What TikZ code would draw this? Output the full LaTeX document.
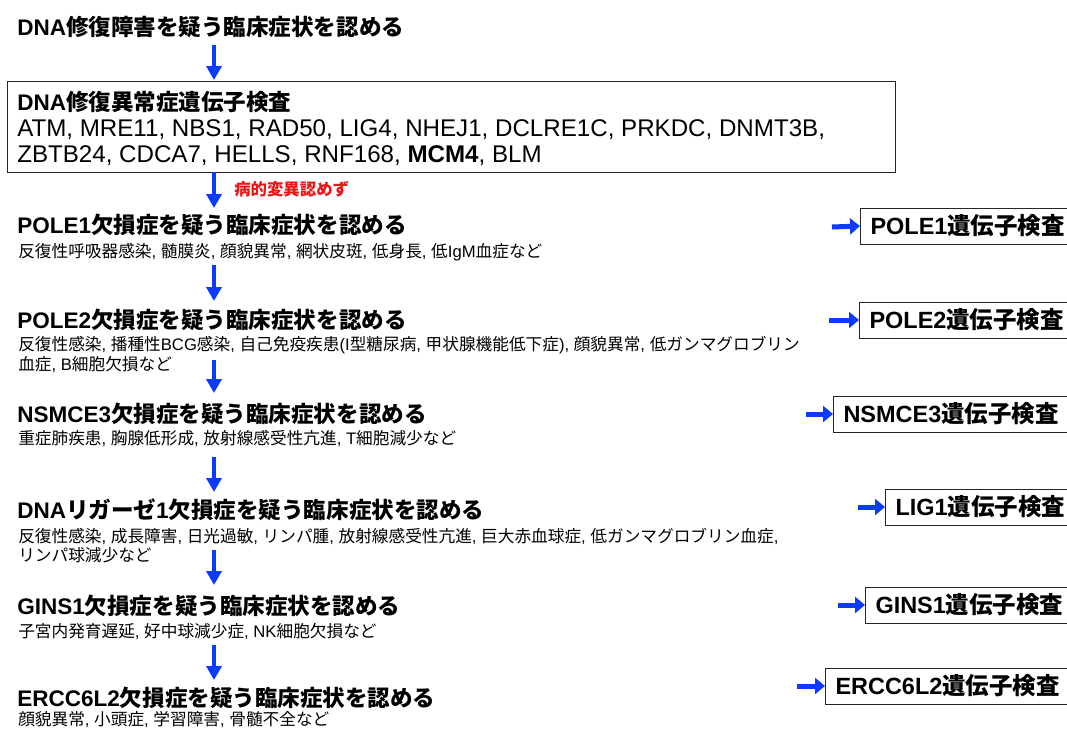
\documentclass[tikz,border=0pt]{standalone}
\usepackage{fontspec}
\setmainfont{Liberation Sans}
\newfontfamily\jpf{Noto Sans CJK JP}
\XeTeXinterchartokenstate=1
\newXeTeXintercharclass\jpclass
\newcount\jpcc
\jpcc="3000
\loop\ifnum\jpcc<"3100 \XeTeXcharclass\jpcc=\jpclass \advance\jpcc by 1 \repeat
\jpcc="4E00
\loop\ifnum\jpcc<"A000 \XeTeXcharclass\jpcc=\jpclass \advance\jpcc by 1 \repeat
\jpcc="FF00
\loop\ifnum\jpcc<"FFF0 \XeTeXcharclass\jpcc=\jpclass \advance\jpcc by 1 \repeat
\XeTeXinterchartoks 0 \jpclass = {\begingroup\jpf}
\XeTeXinterchartoks 4095 \jpclass = {\begingroup\jpf}
\XeTeXinterchartoks \jpclass 0 = {\endgroup}
\XeTeXinterchartoks \jpclass 4095 = {\endgroup}
\usetikzlibrary{arrows.meta}
\definecolor{arrblue}{RGB}{12,58,255}
\definecolor{redlbl}{RGB}{240,20,20}
\tikzset{
  ttl/.style={anchor=base west,inner sep=0pt,font=\bfseries\fontsize{16.9pt}{19pt}\selectfont},
  subt/.style={anchor=base west,inner sep=0pt,font=\fontsize{12.5pt}{14pt}\selectfont},
  gene/.style={anchor=base west,inner sep=0pt,font=\fontsize{18.1pt}{20pt}\selectfont},
  testbox/.style={draw=black!85,line width=0.75pt,anchor=west,inner xsep=7.5pt,inner ysep=0pt,minimum height=27pt,font=\bfseries\fontsize{17.6pt}{19pt}\selectfont},
  varr/.style={draw=arrblue,line width=3pt,-{Triangle[width=11.25pt,length=10.5pt]}},
  harr/.style={draw=arrblue,line width=3.75pt,-{Triangle[width=12pt,length=7.5pt]}},
}
\begin{document}
\begin{tikzpicture}[x=0.75pt,y=-0.75pt]
\useasboundingbox (0,0) rectangle (1067,729);
\clip (0,0) rectangle (1067,729);
% top title
\node[ttl] (t0) at (17,35) {DNA修復障害を疑う臨床症状を認める};
% main box
\node[draw=black!85,line width=0.75pt,anchor=north west,inner sep=0pt,minimum width=666pt,minimum height=68.25pt] (mbox) at (7,81) {};
\node[ttl] (mh) at (17,110) {DNA修復異常症遺伝子検査};
\node[gene] (g1) at (17,136) {ATM, MRE11, NBS1, RAD50, LIG4, NHEJ1, DCLRE1C, PRKDC, DNMT3B,};
\node[gene] (g2) at (17,162) {ZBTB24, CDCA7, HELLS, RNF168, \textbf{MCM4}, BLM};
% arrows
\coordinate (a0s) at (214,45); \coordinate (a0e) at (214,80);
\draw[varr] (a0s) -- (a0e);
\coordinate (a1s) at (214,172); \coordinate (a1e) at (214,208);
\draw[varr] (a1s) -- (a1e);
\node[anchor=base west,inner sep=0pt,text=redlbl,font=\bfseries\fontsize{12.3pt}{14pt}\selectfont] (nf) at (234,195) {病的変異認めず};
% POLE1
\node[ttl] (t1) at (17,233) {POLE1欠損症を疑う臨床症状を認める};
\node[subt] (s1) at (18,257) {反復性呼吸器感染, 髄膜炎, 顔貌異常, 網状皮斑, 低身長, 低IgM血症など};
\coordinate (a2s) at (214,265); \coordinate (a2e) at (214,301);
\draw[varr] (a2s) -- (a2e);
% POLE2
\node[ttl] (t2) at (17,328) {POLE2欠損症を疑う臨床症状を認める};
\node[subt] (s2a) at (18,350) {反復性感染, 播種性BCG感染, 自己免疫疾患(I型糖尿病, 甲状腺機能低下症), 顔貌異常, 低ガンマグロブリン};
\node[subt] (s2b) at (18,370) {血症, B細胞欠損など};
\coordinate (a3s) at (214,360); \coordinate (a3e) at (214,393);
\draw[varr] (a3s) -- (a3e);
% NSMCE3
\node[ttl] (t3) at (17,422) {NSMCE3欠損症を疑う臨床症状を認める};
\node[subt] (s3) at (18,444) {重症肺疾患, 胸腺低形成, 放射線感受性亢進, T細胞減少など};
\coordinate (a4s) at (214,457); \coordinate (a4e) at (214,492);
\draw[varr] (a4s) -- (a4e);
% LIG1
\node[ttl] (t4) at (17,518) {DNAリガーゼ1欠損症を疑う臨床症状を認める};
\node[subt] (s4a) at (18,542) {反復性感染, 成長障害, 日光過敏, リンパ腫, 放射線感受性亢進, 巨大赤血球症, 低ガンマグロブリン血症,};
\node[subt] (s4b) at (18,561) {リンパ球減少など};
\coordinate (a5s) at (214,550); \coordinate (a5e) at (214,585);
\draw[varr] (a5s) -- (a5e);
% GINS1
\node[ttl] (t5) at (17,614) {GINS1欠損症を疑う臨床症状を認める};
\node[subt] (s5) at (18,637) {子宮内発育遅延, 好中球減少症, NK細胞欠損など};
\coordinate (a6s) at (214,645); \coordinate (a6e) at (214,680);
\draw[varr] (a6s) -- (a6e);
% ERCC6L2
\node[ttl] (t6) at (17,706) {ERCC6L2欠損症を疑う臨床症状を認める};
\node[subt] (s6) at (18,725) {顔貌異常, 小頭症, 学習障害, 骨髄不全など};
% right boxes
\node[testbox] (b1) at (860,226) {POLE1遺伝子検査};
\node[testbox] (b2) at (859,320) {POLE2遺伝子検査};
\node[testbox] (b3) at (833,414) {NSMCE3遺伝子検査};
\node[testbox] (b4) at (885,507) {LIG1遺伝子検査};
\node[testbox] (b5) at (865,605) {GINS1遺伝子検査};
\node[testbox] (b6) at (825,686) {ERCC6L2遺伝子検査};
\coordinate (h1) at (832,227); \draw[harr] (h1) -- (b1.west);
\coordinate (h2) at (829,320); \draw[harr] (h2) -- (b2.west);
\coordinate (h3) at (806,414); \draw[harr] (h3) -- (b3.west);
\coordinate (h4) at (858,507); \draw[harr] (h4) -- (b4.west);
\coordinate (h5) at (838,605); \draw[harr] (h5) -- (b5.west);
\coordinate (h6) at (797,686); \draw[harr] (h6) -- (b6.west);
\end{tikzpicture}
\end{document}
